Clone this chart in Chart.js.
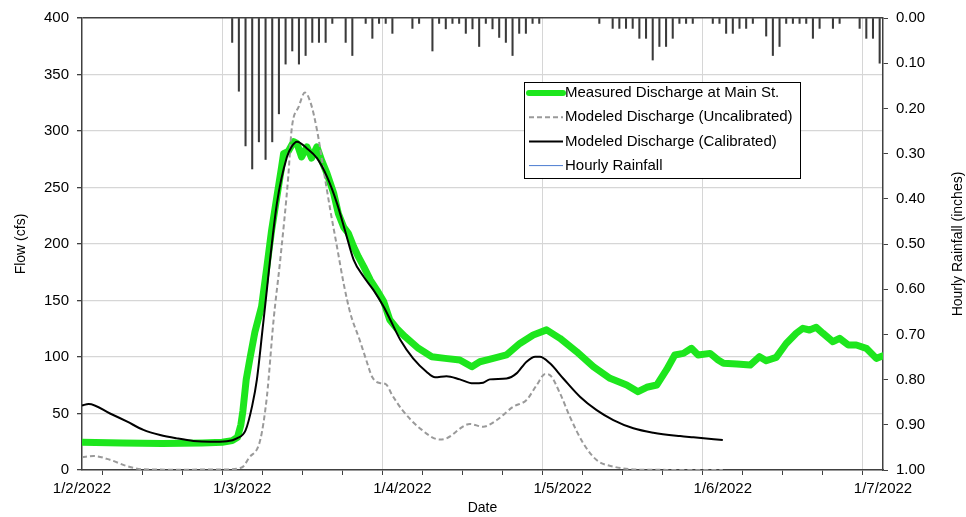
<!DOCTYPE html>
<html>
<head>
<meta charset="utf-8">
<script src="https://cdn.jsdelivr.net/npm/chart.js@4.4.1/dist/chart.umd.min.js"></script>
<style>
  html, body { margin: 0; padding: 0; background: #fff; }
  canvas { display: block; }
</style>
</head>
<body>
<canvas id="chart" width="966" height="517"></canvas>
<script>
// Tick labels for each day boundary (x values are hours from 1/2/2022 00:00)
const dateLabels = ['1/2/2022', '1/3/2022', '1/4/2022', '1/5/2022', '1/6/2022', '1/7/2022'];

// Measured discharge at Main St. (cfs)
const measuredHours = [0, 6, 12, 18, 21, 22.5, 23.3, 23.8, 24.1, 24.6,
  25.2, 25.9, 26.9, 27.7, 28.4, 29.2, 29.9, 30.2, 30.9, 31.7,
  32.2, 32.9, 33.7, 34.4, 35.2, 35.9, 36.7, 37.7, 38.4, 39.2,
  39.9, 40.7, 41.4, 42.2, 43.2, 44.2, 45.2, 46.1, 47.2, 48.4,
  50.4, 52.4, 54.4, 56.6, 58.4, 59.6, 61.6, 63.6, 65.6, 67.6,
  69.6, 71.6, 74.1, 76.6, 79.1, 81.6, 83.3, 84.6, 86.1, 87.6,
  88.8, 90.1, 91.3, 92.3, 94.1, 95.3, 96.1, 98.1, 100.1, 101.5,
  102.5, 104, 105.5, 107, 108, 109, 110, 111, 112.5, 113.5,
  114.8, 116, 117.5, 119, 120];
const measuredFlow = [24.5, 24, 23.5, 24, 24.5, 26, 29, 40, 52, 80,
  100, 122, 144.5, 180, 212, 242, 268, 280, 282, 290.5,
  289, 277, 286, 276, 286, 274, 262.5, 245, 227, 215,
  209.5, 197.6, 188.8, 180, 168, 159, 149, 133, 125, 118,
  107.7, 100.3, 98.8, 97.3, 91.4, 95.8, 98.8, 101.8, 112, 119.5,
  124, 116.5, 104.7, 91.4, 81.1, 75.2, 69.3, 73.2, 75.2, 89,
  101.8, 103.2, 107.7, 101.8, 103.2, 97.3, 94.4, 93.8, 92.9, 100.3,
  96.7, 99.7, 112, 121, 125.4, 123.9, 126.3, 121, 113.5, 116.5,
  110.6, 110.6, 107.7, 98.8, 101];

// Modeled discharge, uncalibrated (cfs)
const uncalHours = [0, 1.7, 4.2, 6.7, 9.2, 14, 21.7, 24, 25, 26.7,
  27.7, 28.7, 29.7, 30.9, 31.4, 32.5, 33.4, 34.3, 35.2, 36.2,
  37.2, 38.2, 39.2, 40.2, 41.6, 42.6, 43.5, 44.6, 45.5, 46.5,
  48, 50.6, 53.6, 54.6, 58.1, 60.1, 62.1, 64.6, 66.6, 68.1,
  69.4, 70.1, 71.6, 73.1, 75.1, 77.1, 79.6, 83.6, 96];
const uncalFlow = [11.2, 12.4, 9, 3.5, 0.6, 0.3, 0.5, 2.4, 10.6, 26.5,
  65, 132.7, 186, 259.6, 301, 322, 334, 324, 301, 265.5,
  230, 197.6, 165, 138.7, 115, 97, 82, 77, 76, 66,
  53, 37, 27, 28, 40.7, 38.3, 44, 56, 62, 75,
  85, 84, 68, 47, 23.6, 8.8, 3, 0.3, 0];

// Modeled discharge, calibrated (cfs)
const calHours = [0, 1, 4.2, 6.7, 9.2, 11.7, 14.2, 16.7, 19.2, 21.7,
  23.2, 24.5, 25.5, 26.2, 27.2, 29.2, 30.7, 31.4, 32.2, 33.7,
  35.2, 36.7, 38.2, 39.4, 40.7, 42.2, 43.7, 45.2, 46.2, 47.7,
  49.6, 51.6, 52.9, 54.6, 56.6, 58.6, 60.1, 61.1, 63.6, 65.1,
  66.6, 67.9, 68.6, 70.1, 72.1, 74.6, 77.1, 79.6, 82.6, 85.6,
  89.6, 91.6, 96];
const calFlow = [57, 58.5, 50, 43, 35.5, 31, 28, 25.7, 25, 25.5,
  28, 35, 57, 80, 132.7, 236, 277, 286, 290.5, 284.6,
  276, 259.6, 236, 212, 186, 171, 159, 144.5, 132.7, 115,
  98.8, 87, 82, 83, 80.2, 76.7, 77.3, 80.2, 81, 85.5,
  95.9, 100.3, 100.3, 94.4, 81, 64.9, 53, 44.2, 36.9, 33,
  30, 28.9, 26.5];

// Hourly rainfall (inches), bars centred on the half hour
const rainHours = [22.5, 23.5, 24.5, 25.5, 26.5, 27.5, 28.5, 29.5, 30.5, 31.5,
  32.5, 33.5, 34.5, 35.5, 36.5, 37.5, 39.5, 40.5, 42.5, 43.5,
  44.5, 45.5, 46.5, 49.5, 50.5, 52.5, 53.5, 54.5, 55.5, 56.5,
  57.5, 58.5, 59.5, 60.5, 61.5, 62.5, 63.5, 64.5, 65.5, 66.5,
  67.5, 68.5, 77.5, 79.5, 80.5, 81.5, 82.5, 83.5, 84.5, 85.5,
  86.5, 87.5, 88.5, 89.5, 90.5, 91.5, 94.5, 95.5, 96.5, 97.5,
  98.5, 99.5, 100.5, 102.5, 103.5, 104.5, 105.5, 106.5, 107.5, 108.5,
  109.5, 110.5, 112.5, 113.5, 116.5, 117.5, 118.5, 119.5];
const rainInches = [0.054, 0.162, 0.283, 0.334, 0.274, 0.313, 0.274, 0.212, 0.102, 0.073,
  0.102, 0.083, 0.054, 0.054, 0.054, 0.012, 0.054, 0.083, 0.012, 0.045,
  0.012, 0.012, 0.034, 0.023, 0.012, 0.073, 0.012, 0.024, 0.012, 0.012,
  0.034, 0.024, 0.063, 0.012, 0.024, 0.043, 0.054, 0.083, 0.034, 0.034,
  0.012, 0.012, 0.012, 0.023, 0.023, 0.023, 0.023, 0.045, 0.045, 0.093,
  0.063, 0.063, 0.045, 0.012, 0.012, 0.012, 0.012, 0.012, 0.034, 0.034,
  0.023, 0.023, 0.012, 0.04, 0.083, 0.063, 0.012, 0.012, 0.012, 0.012,
  0.045, 0.023, 0.023, 0.012, 0.023, 0.045, 0.045, 0.1];

const toPoints = (xs, ys) => xs.map((x, i) => ({ x: x, y: ys[i] }));

const FONT = '"Liberation Sans", Arial, sans-serif';
const AXIS_COLOR = '#404040';
const GRID_COLOR = '#d6d6d6';

const COLORS = {
  measured: '#1de61d',
  uncal: '#9a9a9a',
  cal: '#000000',
  rainBar: '#3a3a3a',
  rainKey: '#4a7bd0'
};

// Boxed legend inside the plot area
const legendBox = {
  id: 'legendBox',
  afterDatasetsDraw(chart) {
    const { ctx, chartArea: a } = chart;
    const x0 = a.left + 442, y0 = a.top + 64, w = 276, h = 96;
    ctx.save();
    ctx.fillStyle = '#fff';
    ctx.fillRect(x0, y0, w, h);
    ctx.strokeStyle = '#000';
    ctx.lineWidth = 1;
    ctx.strokeRect(x0 + 0.5, y0 + 0.5, w, h);
    const rows = [
      { text: 'Measured Discharge at Main St.', color: COLORS.measured, width: 6, dash: [], cap: 'round' },
      { text: 'Modeled Discharge (Uncalibrated)', color: COLORS.uncal, width: 2, dash: [5, 3], cap: 'butt' },
      { text: 'Modeled Discharge (Calibrated)', color: COLORS.cal, width: 2, dash: [], cap: 'butt' },
      { text: 'Hourly Rainfall', color: COLORS.rainKey, width: 1, dash: [], cap: 'butt' }
    ];
    ctx.font = '15px ' + FONT;
    ctx.textBaseline = 'middle';
    ctx.textAlign = 'left';
    rows.forEach((r, i) => {
      const y = y0 + 11 + i * 24.2;
      ctx.beginPath();
      ctx.setLineDash(r.dash);
      ctx.lineCap = r.cap;
      ctx.strokeStyle = r.color;
      ctx.lineWidth = r.width;
      ctx.moveTo(x0 + 5, y);
      ctx.lineTo(x0 + 39, y);
      ctx.stroke();
      ctx.setLineDash([]);
      ctx.fillStyle = '#000';
      ctx.fillText(r.text, x0 + 41, y);
    });
    ctx.restore();
  }
};

// Secondary axis title, reading bottom to top
const rightTitle = {
  id: 'rightTitle',
  afterDraw(chart) {
    const { ctx, chartArea: a } = chart;
    ctx.save();
    ctx.translate(chart.width - 8, (a.top + a.bottom) / 2);
    ctx.rotate(-Math.PI / 2);
    ctx.font = '14px ' + FONT;
    ctx.fillStyle = '#000';
    ctx.textAlign = 'center';
    ctx.textBaseline = 'middle';
    ctx.fillText('Hourly Rainfall (inches)', 0, 0);
    ctx.restore();
  }
};

new Chart(document.getElementById('chart'), {
  type: 'line',
  data: {
    datasets: [
      {
        label: 'Modeled Discharge (Calibrated)',
        data: toPoints(calHours, calFlow),
        borderColor: COLORS.cal,
        borderWidth: 2,
        pointRadius: 0,
        cubicInterpolationMode: 'monotone',
        yAxisID: 'y',
        order: 1
      },
      {
        label: 'Modeled Discharge (Uncalibrated)',
        data: toPoints(uncalHours, uncalFlow),
        borderColor: COLORS.uncal,
        borderWidth: 2,
        borderDash: [5, 3],
        pointRadius: 0,
        cubicInterpolationMode: 'monotone',
        yAxisID: 'y',
        order: 2
      },
      {
        label: 'Measured Discharge at Main St.',
        data: toPoints(measuredHours, measuredFlow),
        borderColor: COLORS.measured,
        borderWidth: 7,
        borderJoinStyle: 'round',
        borderCapStyle: 'round',
        pointRadius: 0,
        tension: 0,
        yAxisID: 'y',
        order: 3
      },
      {
        type: 'bar',
        label: 'Hourly Rainfall',
        data: toPoints(rainHours, rainInches),
        backgroundColor: COLORS.rainBar,
        barThickness: 1.4,
        grouped: false,
        yAxisID: 'rain',
        order: 4
      }
    ]
  },
  options: {
    responsive: false,
    animation: false,
    layout: { padding: { top: 18, left: 0, right: 0, bottom: 0 } },
    plugins: {
      legend: { display: false },
      tooltip: { enabled: false }
    },
    scales: {
      x: {
        type: 'linear',
        min: 0,
        max: 120,
        offset: false,
        afterFit: s => { s.height = 47; },
        ticks: {
          stepSize: 6,
          autoSkip: false,
          maxRotation: 0,
          padding: 5,
          color: '#000',
          font: { family: FONT, size: 15 },
          callback: v => (v % 24 === 0 ? dateLabels[v / 24] : '')
        },
        grid: {
          color: c => (c.tick && c.tick.value % 24 === 0 ? GRID_COLOR : 'rgba(0,0,0,0)'),
          tickColor: AXIS_COLOR,
          tickLength: 5,
          lineWidth: 1
        },
        border: { color: AXIS_COLOR, width: 1.5 },
        title: {
          display: true,
          text: 'Date',
          color: '#000',
          font: { family: FONT, size: 14 },
          padding: { top: 0, bottom: 0 }
        }
      },
      y: {
        type: 'linear',
        position: 'left',
        min: 0,
        max: 400,
        afterFit: s => { s.width = 82; },
        ticks: {
          stepSize: 50,
          padding: 8,
          color: '#000',
          font: { family: FONT, size: 15 }
        },
        grid: {
          color: c => (c.tick && c.tick.value === 400 ? AXIS_COLOR : GRID_COLOR),
          lineWidth: c => (c.tick && c.tick.value === 400 ? 1.5 : 1.3),
          tickColor: AXIS_COLOR,
          tickLength: 5
        },
        border: { color: AXIS_COLOR, width: 1.5 },
        title: {
          display: true,
          text: 'Flow (cfs)',
          color: '#000',
          font: { family: FONT, size: 14 },
          padding: { top: 13, bottom: 0 }
        }
      },
      rain: {
        type: 'linear',
        position: 'right',
        min: 0,
        max: 1,
        reverse: true,
        afterFit: s => { s.width = 83; },
        ticks: {
          stepSize: 0.1,
          padding: 8,
          color: '#000',
          font: { family: FONT, size: 15 },
          callback: v => Number(v).toFixed(2)
        },
        grid: {
          drawOnChartArea: false,
          tickColor: AXIS_COLOR,
          tickLength: 5
        },
        border: { color: AXIS_COLOR, width: 1.5 }
      }
    }
  },
  plugins: [legendBox, rightTitle]
});
</script>
</body>
</html>
